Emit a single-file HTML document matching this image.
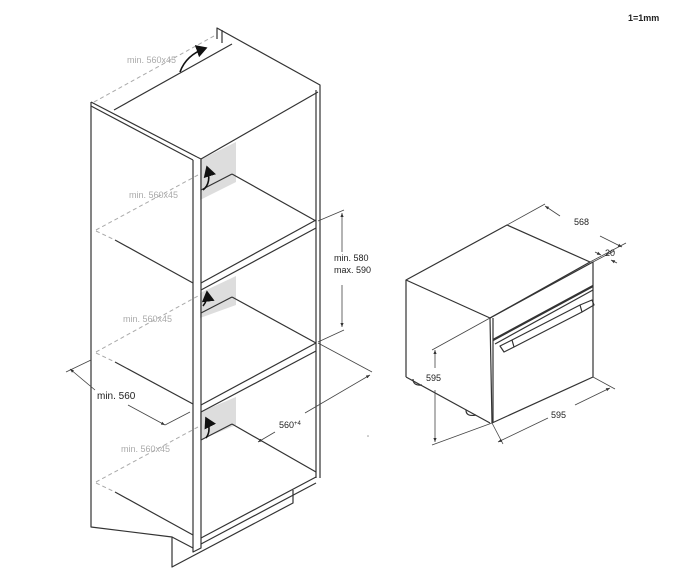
<!DOCTYPE html>
<html><head><meta charset="utf-8"><style>
html,body{margin:0;padding:0;background:#fff}
svg{display:block}
text{font-family:"Liberation Sans",sans-serif}
</style></head><body>
<svg width="700" height="578" viewBox="0 0 700 578" xmlns="http://www.w3.org/2000/svg">
<defs>
<marker id="a" markerWidth="6" markerHeight="6" refX="5" refY="3" orient="auto"><path d="M0,1 L5,3 L0,5z" fill="#333"/></marker>
<marker id="ah" markerWidth="8" markerHeight="8" refX="6" refY="4" orient="auto"><path d="M0,0 L7,4 L0,8z" fill="#111"/></marker>
</defs>
<text x="628" y="21" font-size="9" font-weight="bold" fill="#222">1=1mm</text>

<!-- vents -->
<polygon points="200,160 236,142 236,182 200,200" fill="#ddd"/>
<polygon points="200,293 236,276 236,305 200,318" fill="#ddd"/>
<polygon points="200,412 236,397 236,425 200,440" fill="#ddd"/>

<g fill="none" stroke="#333" stroke-width="1.2" stroke-linejoin="round">
<!-- right back panel -->
<polyline points="217,39 217,28 320,85 320,478"/>
<line x1="222" y1="30" x2="222" y2="43"/>
<line x1="316" y1="90" x2="316" y2="478"/>
<!-- left panel -->
<polyline points="91,102 91,527 172,537 172,567 293,503 293,490"/>
<line x1="91" y1="102" x2="197" y2="157"/>
<line x1="91" y1="106" x2="193" y2="160"/>
<polyline points="197,157 201,159 201,548 193,552 193,160"/>
<line x1="172" y1="537" x2="193" y2="548"/>
<!-- top -->
<line x1="114" y1="110" x2="232" y2="44"/>
<line x1="201" y1="159" x2="318" y2="92"/>
<!-- shelves -->
<line x1="201" y1="283" x2="316" y2="220"/>
<line x1="201" y1="290" x2="316" y2="228"/>
<line x1="115" y1="240" x2="193" y2="283"/>
<line x1="201" y1="190" x2="232" y2="174"/>
<line x1="232" y1="174" x2="316" y2="221"/>
<line x1="201" y1="405" x2="316" y2="343"/>
<line x1="201" y1="412" x2="316" y2="351"/>
<line x1="115" y1="362" x2="193" y2="404"/>
<line x1="201" y1="313" x2="232" y2="297"/>
<line x1="232" y1="297" x2="316" y2="343"/>
<line x1="201" y1="440" x2="232" y2="424"/>
<line x1="232" y1="424" x2="316" y2="472"/>
<line x1="115" y1="492" x2="193" y2="535"/>
<line x1="201" y1="538" x2="316" y2="477"/>
<line x1="201" y1="544" x2="316" y2="483"/>
</g>

<!-- dashed -->
<g stroke="#aaa" stroke-width="1" stroke-dasharray="4,3" fill="none">
<line x1="94" y1="102" x2="214" y2="36"/>
<line x1="96" y1="230" x2="198" y2="175"/>
<line x1="96" y1="231" x2="115" y2="240"/>
<line x1="96" y1="352" x2="198" y2="296"/>
<line x1="96" y1="353" x2="115" y2="362"/>
<line x1="96" y1="482" x2="198" y2="427"/>
<line x1="96" y1="483" x2="115" y2="492"/>
</g>
<g fill="#aaa" font-size="9">
<text x="127" y="63">min. 560x45</text>
<text x="129" y="198">min. 560x45</text>
<text x="123" y="322">min. 560x45</text>
<text x="121" y="452">min. 560x45</text>
</g>
<!-- curved arrows -->
<g fill="none" stroke="#111" stroke-width="1.6">
<path d="M180,72 Q186,55 206,48" marker-end="url(#ah)"/>
<path d="M203,190 Q212,183 207,167" marker-end="url(#ah)"/>
<path d="M203,306 Q208,300 207,292" marker-end="url(#ah)"/>
<path d="M206,438 Q212,430 206,418" marker-end="url(#ah)"/>
</g>

<!-- dimensions cabinet -->
<g stroke="#444" stroke-width="0.8" fill="none">
<line x1="318" y1="221" x2="344" y2="210"/>
<line x1="318" y1="342" x2="344" y2="330"/>
<line x1="342" y1="252" x2="342" y2="213" marker-end="url(#a)"/>
<line x1="342" y1="285" x2="342" y2="327" marker-end="url(#a)"/>
<line x1="91" y1="360" x2="66" y2="372"/>
<line x1="95" y1="390" x2="70" y2="369" marker-end="url(#a)"/>
<line x1="128" y1="405" x2="165" y2="425" marker-end="url(#a)"/>
<line x1="165" y1="425" x2="190" y2="412"/>
<line x1="318" y1="343" x2="372" y2="372"/>
<line x1="305" y1="413" x2="370" y2="375" marker-end="url(#a)"/>
<line x1="275" y1="432" x2="258" y2="442" marker-end="url(#a)"/>
</g>
<g fill="#222" font-size="9">
<text x="334" y="261">min. 580</text>
<text x="334" y="273">max. 590</text>
<text x="97" y="399" font-size="10">min. 560</text>
<text x="279" y="428">560<tspan font-size="6" dy="-3">+4</tspan></text>
</g>
<circle cx="368" cy="436" r="0.8" fill="#999"/>

<!-- oven -->
<g fill="none" stroke="#333" stroke-width="1.2" stroke-linejoin="round">
<polygon points="406,280 507,225 590,262 490,318"/>
<line x1="406" y1="280" x2="406" y2="377"/>
<line x1="406" y1="377" x2="490" y2="423"/>
<polygon points="490,318 593,262 593,377 492,423"/>
<line x1="493" y1="318" x2="493" y2="423"/>
<line x1="493" y1="340" x2="593" y2="286" stroke-width="2.2"/>
<line x1="495" y1="344" x2="593" y2="290"/>
<polygon points="500,346 512,340 580,305 592,300 594,305 582,312 514,347 504,352"/>
<line x1="512" y1="340" x2="514" y2="347"/>
<line x1="580" y1="305" x2="582" y2="312"/>
<path d="M413,379 Q413,386 422,385"/>
<path d="M466,410 Q466,417 476,415"/>
</g>
<g stroke="#444" stroke-width="0.8" fill="none">
<line x1="507" y1="225" x2="545" y2="204"/>
<line x1="590" y1="262" x2="626" y2="243"/>
<line x1="560" y1="216" x2="545" y2="206" marker-end="url(#a)"/>
<line x1="600" y1="236" x2="622" y2="247" marker-end="url(#a)"/>
<line x1="593" y1="262" x2="614" y2="251"/>
<line x1="595" y1="252" x2="601" y2="255" marker-end="url(#a)"/>
<line x1="617" y1="263" x2="611" y2="260" marker-end="url(#a)"/>
<line x1="490" y1="318" x2="432" y2="350"/>
<line x1="492" y1="423" x2="432" y2="445"/>
<line x1="435" y1="368" x2="435" y2="350" marker-end="url(#a)"/>
<line x1="435" y1="390" x2="435" y2="442" marker-end="url(#a)"/>
<line x1="593" y1="377" x2="615" y2="389"/>
<line x1="492" y1="423" x2="503" y2="444"/>
<line x1="548" y1="418" x2="498" y2="442" marker-end="url(#a)"/>
<line x1="575" y1="405" x2="610" y2="388" marker-end="url(#a)"/>
</g>
<g fill="#222" font-size="9">
<text x="574" y="225">568</text>
<text x="605" y="256">20</text>
<text x="426" y="381">595</text>
<text x="551" y="418">595</text>
</g>
</svg>
</body></html>
